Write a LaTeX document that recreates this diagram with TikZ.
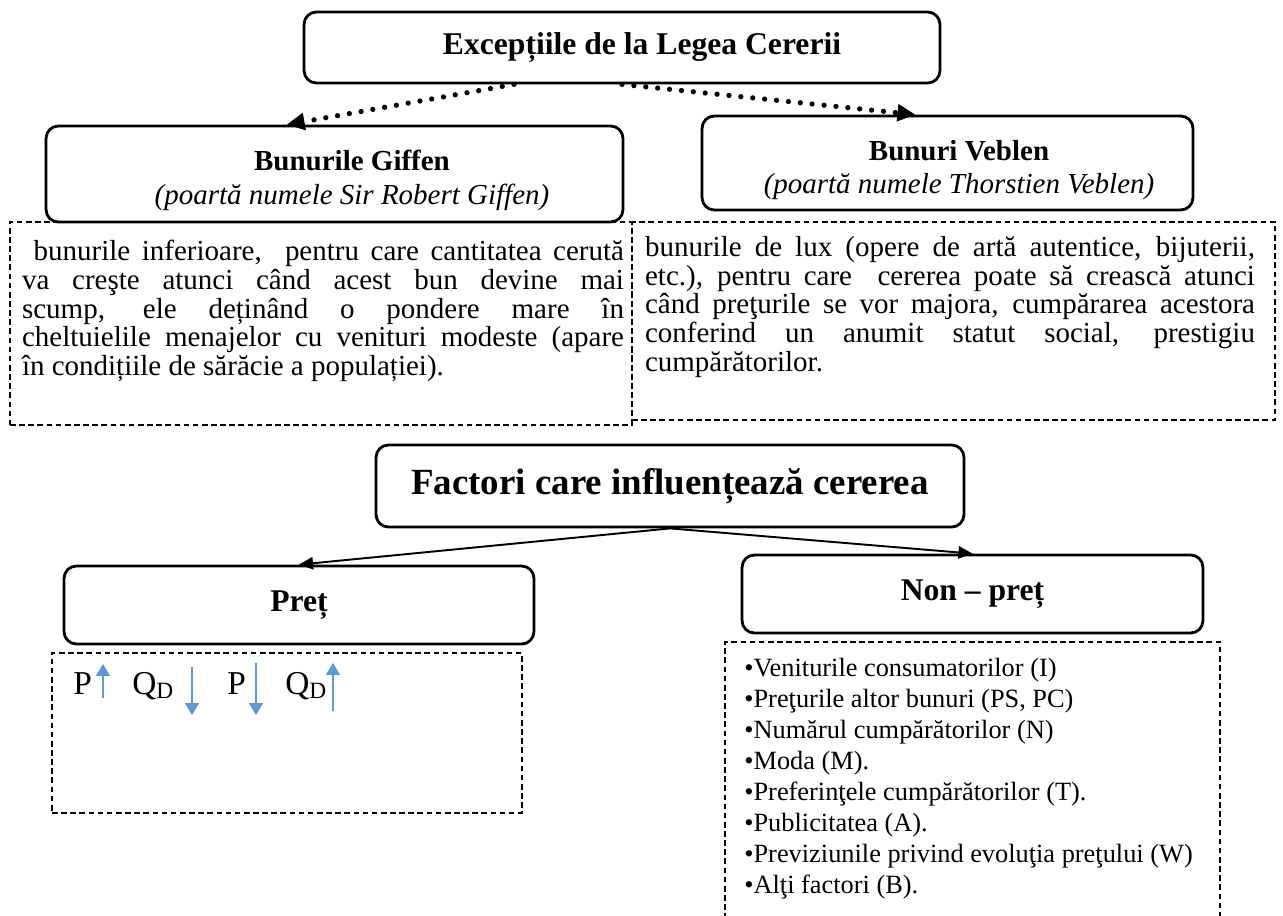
\documentclass[tikz,border=0pt]{standalone}
\usepackage{fontspec}
\setmainfont{Liberation Serif}
\usetikzlibrary{arrows.meta, positioning}
\definecolor{qblue}{RGB}{91,155,213}

\begin{document}
\begin{tikzpicture}[x=0.02cm, y=-0.02cm]
\useasboundingbox (0,0) rectangle (1283,915);

\begin{scope}[every node/.style={shape=rectangle, draw, rounded corners=7pt,
    line width=1.6pt, align=center, inner sep=0pt}]
    \node[minimum width=12.72cm, minimum height=1.42cm] (exc) at (622,47.5) {};
    \node[minimum width=11.54cm, minimum height=1.92cm] (gif) at (334.5,174) {};
    \node[minimum width=9.82cm, minimum height=1.88cm] (veb) at (947.5,163) {};
    \node[minimum width=11.76cm, minimum height=1.64cm,
        font=\fontsize{21}{24}\selectfont\bfseries] (fac) at (670,486) {Factori care influențează cererea};
    \node[minimum width=9.4cm, minimum height=1.56cm,
        font=\fontsize{18}{21}\selectfont\bfseries] (pr) at (299,605) {Preț};
    \node[minimum width=9.22cm, minimum height=1.56cm,
        font=\fontsize{18}{21}\selectfont\bfseries] (np) at (972.5,594) {Non – preț};
\end{scope}

\begin{scope}[every node/.style={draw, dash pattern=on 3.2pt off 2pt,
    line width=1pt, inner sep=0pt}]
    \node[minimum width=12.44cm, minimum height=4.06cm] (gifd) at (321,323.5) {};
    \node[minimum width=12.86cm, minimum height=3.96cm] (vebd) at (953.5,321) {};
    \node[minimum width=9.4cm, minimum height=3.2cm] (prd) at (287,733) {};
    % goes on below the page
    \node[minimum width=9.9cm, minimum height=5.66cm] (npd) at (972.5,783.5) {};
\end{scope}

\begin{scope}[every node/.style={align=center, inner sep=0pt,
    font=\fontsize{16.5}{19.3}\selectfont}]
    \node[font=\fontsize{18}{21}\selectfont\bfseries] (exct) at (642,47.5) {Excepțiile de la Legea Cererii};
    \node (gift) at (352,180) {\textbf{Bunurile Giffen}\\\textit{(poartă numele Sir Robert Giffen)}};
    \node (vebt) at (959,170) {\textbf{Bunuri Veblen}\\\textit{(poartă numele Thorstien Veblen)}};
    \node[align=justify, text width=12.04cm, font=\fontsize{16.5}{16.4}\selectfont] (gifb) at (323,311)
    {\ bunurile inferioare,\ \ pentru care cantitatea cerută\linebreak
    va creşte atunci când acest bun devine mai\linebreak
    scump, ele deținând o pondere mare în\linebreak
    cheltuielile menajelor cu venituri modeste (apare\linebreak
    în condițiile de sărăcie a populației).};
    \node[align=justify, text width=12.2cm, font=\fontsize{16.5}{16.4}\selectfont] (vebb) at (950,307)
    {bunurile de lux (opere de artă autentice, bijuterii,\linebreak
    etc.), pentru care\ \ cererea poate să crească atunci\linebreak
    când preţurile se vor majora, cumpărarea acestora\linebreak
    conferind un anumit statut social, prestigiu\linebreak
    cumpărătorilor.};
\end{scope}

\begin{scope}[every node/.style={inner sep=0pt, anchor=base west,
    font=\fontsize{19}{22}\selectfont}]
    \node (p1) at (73,694) {P};
    \node (q1) at (132,694) {Q\textsubscript{D}};
    \node (p2) at (227,694) {P};
    \node (q2) at (285,694) {Q\textsubscript{D}};
    \node[anchor=north west, align=left, font=\fontsize{15}{17.6}\selectfont] (npl) at (744,658)
    {•Veniturile consumatorilor (I)\\
    •Preţurile altor bunuri (PS, PC)\\
    •Numărul cumpărătorilor (N)\\
    •Moda (M).\\
    •Preferinţele cumpărătorilor (T).\\
    •Publicitatea (A).\\
    •Previziunile privind evoluţia preţului (W)\\
    •Alţi factori (B).};
\end{scope}

\begin{scope}[
    dotline/.style={line width=3pt, line cap=round, dash pattern=on 0pt off 6.8pt,
        -{Triangle[length=10pt, width=10pt, line width=0.5pt]}},
    link/.style={line width=1.1pt, -{Triangle[length=8pt, width=7pt]}},
    qarrow/.style={qblue, line width=0.8pt, -{Triangle[length=6.8pt, width=8pt]}}
    ]
    \draw[dotline] ([xshift=-2.16cm]exc.south) -- ([xshift=-0.95cm]gif.north);
    \draw[dotline] (exc.south) -- ([xshift=-0.65cm]veb.north);
    \draw[link] (fac.south) -- (pr.north);
    \draw[link] (fac.south) -- (np.north);
    \draw[qarrow] (103,698) -- (103,664);
    \draw[qarrow] (192,667) -- (192,715);
    \draw[qarrow] (256,663) -- (256,715);
    \draw[qarrow] (333,711) -- (333,663);
\end{scope}
\end{tikzpicture}
\end{document}
